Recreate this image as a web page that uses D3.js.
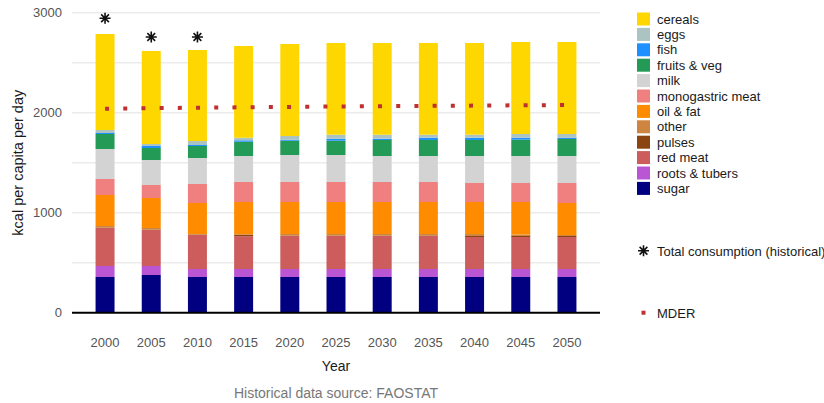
<!DOCTYPE html>
<html>
<head>
<meta charset="utf-8">
<script src="https://cdn.jsdelivr.net/npm/d3@7"></script>
<style>
    body { margin: 0; background: #fff; }
    text { font-family: "Liberation Sans", Arial, sans-serif; }
</style>
</head>
<body>
<div id="chart"></div>
<script>
// DATA
const years = [2000, 2005, 2010, 2015, 2020, 2025, 2030, 2035, 2040, 2045, 2050];

const sugar        = [357, 377, 357, 357, 357, 357, 357, 357, 357, 357, 357];
const rootsTubers  = [110, 90, 80, 80, 80, 80, 80, 80, 80, 80, 80];
const redMeat      = [380, 360, 340, 328, 330, 330, 330, 330, 320, 320, 320];
const pulses       = [3, 3, 3, 12, 3, 3, 3, 5, 10, 10, 10];
const other        = [17, 17, 7, 8, 17, 17, 17, 15, 20, 15, 10];
const oilFat       = [310, 300, 310, 322, 320, 320, 320, 320, 320, 325, 320];
const monoMeat     = [160, 130, 190, 200, 200, 200, 200, 200, 190, 190, 200];
const milk         = [300, 250, 260, 260, 270, 270, 260, 260, 270, 270, 270];
const fruitsVeg    = [150, 120, 120, 143, 143, 143, 160, 160, 160, 163, 170];
const fish         = [10, 20, 10, 14, 10, 20, 13, 23, 23, 20, 13];
const eggs         = [30, 20, 40, 26, 37, 40, 40, 30, 30, 37, 37];
const cereals      = [960, 930, 910, 917, 920, 917, 917, 917, 917, 920, 920];

const totalHistorical = [2945, 2757, 2757, null, null, null, null, null, null, null, null];
const mder = [2040, 2045, 2050, 2054, 2058, 2062, 2065, 2068, 2071, 2074, 2077];

const yTicks = [0, 1000, 2000, 3000];

// LEGEND ORDER (TOP TO BOTTOM), STACK IS BOTTOM TO TOP (REVERSED)
const legendKeys = ["cereals", "eggs", "fish", "fruits & veg", "milk", "monogastric meat",
    "oil & fat", "other", "pulses", "red meat", "roots & tubers", "sugar"];
const legendColors = ["#ffd700", "#abc4c2", "#1e90ff", "#239a55", "#d3d3d3", "#f08080",
    "#ff8c00", "#cd853f", "#8b4513", "#cd5c5c", "#ba55d3", "#000080"];
const seriesValues = [cereals, eggs, fish, fruitsVeg, milk, monoMeat,
    oilFat, other, pulses, redMeat, rootsTubers, sugar];

// BUILD TABLE FOR d3.stack
const table = years.map(function (yr, i) {
    const row = { year: yr };
    legendKeys.forEach(function (k, j) { row[k] = seriesValues[j][i]; });
    return row;
});
const stackKeys = legendKeys.slice().reverse();
const color = d3.scaleOrdinal().domain(legendKeys).range(legendColors);

// SIZES
const width = 824;
const height = 403;
const plotLeft = 72;
const plotRight = 600;
const plotTop = 12.7;
const plotBottom = 312.7;

const svg = d3.select("#chart").append("svg")
    .attr("width", width)
    .attr("height", height);

// SCALES
const x = d3.scaleBand()
    .domain(years)
    .range([plotLeft, plotRight])
    .paddingInner(0.589)
    .paddingOuter(0.51);
const y = d3.scaleLinear()
    .domain([0, 3000])
    .range([plotBottom, plotTop]);

// GRID LINES
svg.append("g")
    .selectAll("line")
    .data(d3.range(500, 3001, 500))
    .enter().append("line")
    .attr("x1", plotLeft)
    .attr("x2", plotRight)
    .attr("y1", function (d) { return y(d); })
    .attr("y2", function (d) { return y(d); })
    .attr("stroke", "#ebebeb")
    .attr("stroke-width", 1.5);

// Y AXIS LABELS
const yAxis = d3.axisLeft(y).tickValues(yTicks).tickFormat(d3.format("d")).tickSize(0).tickPadding(10);
const gy = svg.append("g")
    .attr("transform", "translate(" + plotLeft + ",0)")
    .call(yAxis);
gy.select(".domain").remove();
gy.selectAll("text")
    .style("font-size", "13px")
    .style("font-family", "Liberation Sans, Arial, sans-serif")
    .attr("fill", "#555");

// X AXIS LABELS
const xAxis = d3.axisBottom(x).tickSize(0).tickPadding(25);
const gx = svg.append("g")
    .attr("transform", "translate(0," + plotBottom + ")")
    .call(xAxis);
gx.select(".domain").remove();
gx.selectAll("text")
    .style("font-size", "13px")
    .style("font-family", "Liberation Sans, Arial, sans-serif")
    .attr("fill", "#555");

// STACKED BARS
const stacked = d3.stack().keys(stackKeys)(table);
svg.append("g")
    .selectAll("g")
    .data(stacked)
    .enter().append("g")
    .attr("fill", function (d) { return color(d.key); })
    .selectAll("rect")
    .data(function (d) { return d; })
    .enter().append("rect")
    .attr("x", function (d) { return x(d.data.year); })
    .attr("width", x.bandwidth())
    .attr("y", function (d) { return y(d[1]); })
    .attr("height", function (d) { return y(d[0]) - y(d[1]); });

// BASELINE
svg.append("line")
    .attr("x1", plotLeft)
    .attr("x2", plotRight)
    .attr("y1", y(0))
    .attr("y2", y(0))
    .attr("stroke", "#000")
    .attr("stroke-width", 2);

// MDER DOTTED LINE
const mderLine = d3.line()
    .x(function (d, i) { return x(years[i]) + x.bandwidth() / 2; })
    .y(function (d) { return y(d); });
svg.append("path")
    .datum(mder)
    .attr("d", mderLine)
    .attr("fill", "none")
    .attr("stroke", "#bf3030")
    .attr("stroke-width", 4)
    .attr("stroke-dasharray", "4,14.2");

// ASTERISK MARKER (8 SPOKES)
function asterisk(cx, cy, r) {
    let p = "";
    for (let a = 0; a < 4; a++) {
        const ang = a * Math.PI / 4;
        const dx = r * Math.cos(ang), dy = r * Math.sin(ang);
        p += "M" + (cx - dx) + "," + (cy - dy) + "L" + (cx + dx) + "," + (cy + dy);
    }
    return p;
}

// TOTAL CONSUMPTION (HISTORICAL)
svg.append("g")
    .selectAll("path")
    .data(totalHistorical.map(function (v, i) { return { year: years[i], value: v }; })
        .filter(function (d) { return d.value !== null; }))
    .enter().append("path")
    .attr("d", function (d) { return asterisk(x(d.year) + x.bandwidth() / 2, y(d.value), 5.5); })
    .attr("stroke", "#111")
    .attr("stroke-width", 1.6);

// AXIS TITLES
svg.append("text")
    .attr("transform", "translate(23," + (plotTop + plotBottom) / 2 + ") rotate(-90)")
    .attr("text-anchor", "middle")
    .style("font-size", "14.5px")
    .attr("fill", "#1a1a1a")
    .text("kcal per capita per day");

svg.append("text")
    .attr("x", (plotLeft + plotRight) / 2)
    .attr("y", 371)
    .attr("text-anchor", "middle")
    .style("font-size", "14px")
    .attr("fill", "#1a1a1a")
    .text("Year");

svg.append("text")
    .attr("x", 336)
    .attr("y", 398)
    .attr("text-anchor", "middle")
    .style("font-size", "14px")
    .attr("fill", "#777")
    .text("Historical data source: FAOSTAT");

// LEGEND
const legend = svg.append("g")
    .selectAll("g")
    .data(legendKeys)
    .enter().append("g")
    .attr("transform", function (d, i) { return "translate(637," + (12.5 + i * 15.4) + ")"; });
legend.append("rect")
    .attr("width", 13)
    .attr("height", 13)
    .attr("fill", function (d) { return color(d); });
legend.append("text")
    .attr("x", 20)
    .attr("y", 11)
    .style("font-size", "13px")
    .attr("fill", "#1a1a1a")
    .text(function (d) { return d; });

svg.append("path")
    .attr("d", asterisk(643.5, 250.7, 5.5))
    .attr("stroke", "#111")
    .attr("stroke-width", 1.6);
svg.append("text")
    .attr("x", 657)
    .attr("y", 255.5)
    .style("font-size", "13px")
    .attr("fill", "#1a1a1a")
    .text("Total consumption (historical)");

svg.append("rect")
    .attr("x", 641.5)
    .attr("y", 310.7)
    .attr("width", 4)
    .attr("height", 4)
    .attr("fill", "#bf3030");
svg.append("text")
    .attr("x", 657)
    .attr("y", 317.5)
    .style("font-size", "13px")
    .attr("fill", "#1a1a1a")
    .text("MDER");
</script>
</body>
</html>
